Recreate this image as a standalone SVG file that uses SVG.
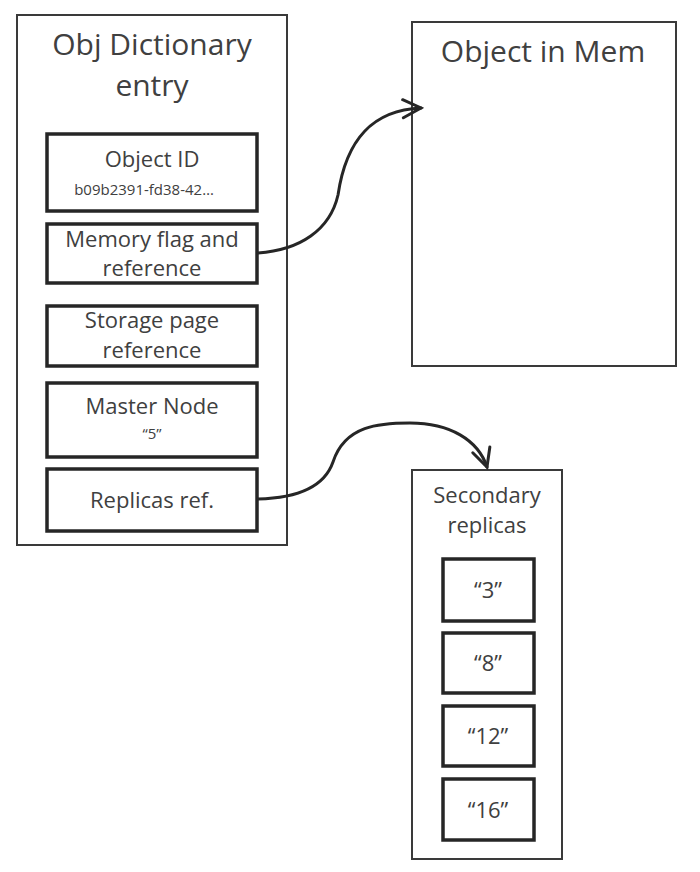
<svg xmlns="http://www.w3.org/2000/svg" width="700" height="872" viewBox="0 0 700 872">
<defs>
<style>
.outer{fill:#fff;stroke:#3a3a3a;stroke-width:2}
.inner{fill:#fff;stroke:#262626;stroke-width:3.5}
.t{font-family:"Open Sans","Liberation Sans",sans-serif;fill:#404040;text-anchor:middle}
.big{font-size:30px}
.mid{font-size:22px}
.sm{font-size:15px}
.conn{fill:none;stroke:#262626;stroke-width:3;stroke-linecap:round}
</style>
<marker id="arr" viewBox="0 0 24 24" markerWidth="24" markerHeight="24" refX="21" refY="12" orient="auto" markerUnits="userSpaceOnUse">
<path d="M3,3 L21,12 L3,21" fill="none" stroke="#262626" stroke-width="3" stroke-linecap="round" stroke-linejoin="miter"/>
</marker>
</defs>
<rect width="700" height="872" fill="#fff"/>
<g id="obj-dictionary">
<rect class="outer" x="17" y="15" width="270" height="530"/>
<text class="t big" x="152" y="55">Obj Dictionary</text>
<text class="t big" x="152" y="96">entry</text>
</g>
<g id="object-id">
<rect class="inner" x="47" y="134" width="210" height="77"/>
<text class="t mid" x="152" y="167">Object ID</text>
<text class="t sm" x="144" y="195">b09b2391-fd38-42…</text>
</g>
<g id="memory-flag">
<rect class="inner" x="47" y="224" width="210" height="59"/>
<text class="t mid" x="152" y="247">Memory flag and</text>
<text class="t mid" x="152" y="276">reference</text>
</g>
<g id="storage-page">
<rect class="inner" x="47" y="306" width="210" height="60"/>
<text class="t mid" x="152" y="328">Storage page</text>
<text class="t mid" x="152" y="358">reference</text>
</g>
<g id="master-node">
<rect class="inner" x="47" y="383" width="210" height="74"/>
<text class="t mid" x="152" y="414">Master Node</text>
<text class="t sm" x="152" y="439">“5”</text>
</g>
<g id="replicas-ref">
<rect class="inner" x="47" y="469" width="210" height="62"/>
<text class="t mid" x="152" y="508">Replicas ref.</text>
</g>
<g id="object-in-mem">
<rect class="outer" x="412" y="22" width="264" height="344"/>
<text class="t big" x="543" y="62">Object in Mem</text>
</g>
<g id="secondary-replicas">
<rect class="outer" x="412" y="470" width="150" height="389"/>
<text class="t" style="font-size:22px" x="487" y="503">Secondary</text>
<text class="t" style="font-size:22px" x="487" y="533">replicas</text>
</g>
<g id="replica-3">
<rect class="inner" x="443" y="559" width="91" height="62"/>
<text class="t mid" x="488" y="598">“3”</text>
</g>
<g id="replica-8">
<rect class="inner" x="443" y="633" width="91" height="60"/>
<text class="t mid" x="488" y="671">“8”</text>
</g>
<g id="replica-12">
<rect class="inner" x="443" y="706" width="91" height="60"/>
<text class="t mid" x="488" y="744">“12”</text>
</g>
<g id="replica-16">
<rect class="inner" x="443" y="779" width="91" height="61"/>
<text class="t mid" x="488" y="818">“16”</text>
</g>
<g id="connectors">
<path class="conn" d="M258,253 C300,250 330,230 338,195 C346,140 372,110 421,108" marker-end="url(#arr)"/>
<path class="conn" d="M258,499 C300,498 325,485 333,462 C345,425 380,423 410,423 C450,423 478,440 487,467" marker-end="url(#arr)"/>
</g>
</svg>
